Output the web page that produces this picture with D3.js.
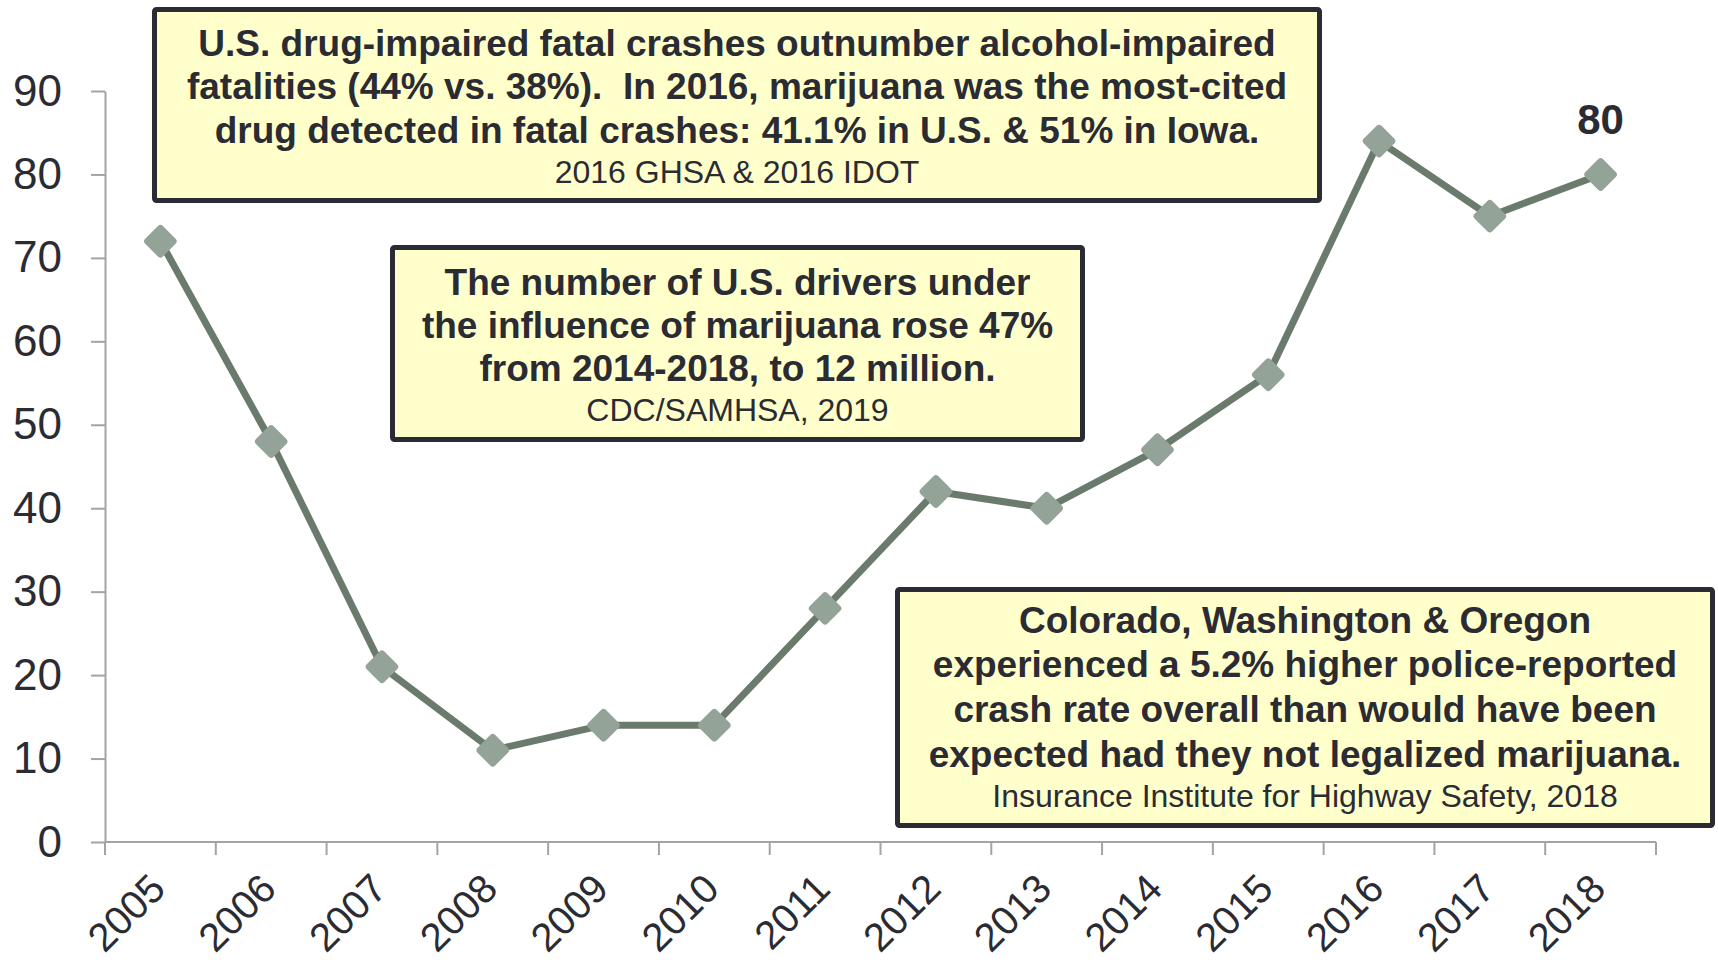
<!DOCTYPE html>
<html>
<head>
<meta charset="utf-8">
<script src="https://d3js.org/d3.v7.min.js"></script>
<style>
  html, body { margin: 0; padding: 0; background: #ffffff; }
  svg { display: block; }
  text { font-family: "Liberation Sans", Arial, Helvetica, sans-serif; fill: #2b2b33; white-space: pre; }
</style>
</head>
<body>
<svg id="chart" width="1718" height="963"></svg>
<script>
// ---------------- data ----------------
const years = ["2005","2006","2007","2008","2009","2010","2011","2012","2013","2014","2015","2016","2017","2018"];
const values = [72, 48, 21, 11, 14, 14, 28, 42, 40, 47, 56, 84, 75, 80];
const yTicks = [0, 10, 20, 30, 40, 50, 60, 70, 80, 90];
const labeledYear = "2018";
const labeledText = "80";

const note1Lines = [
  "U.S. drug-impaired fatal crashes outnumber alcohol-impaired",
  "fatalities (44% vs. 38%).  In 2016, marijuana was the most-cited",
  "drug detected in fatal crashes: 41.1% in U.S. & 51% in Iowa."
];
const note1Source = "2016 GHSA & 2016 IDOT";

const note2Lines = [
  "The number of U.S. drivers under",
  "the influence of marijuana rose 47%",
  "from 2014-2018, to 12 million."
];
const note2Source = "CDC/SAMHSA, 2019";

const note3Lines = [
  "Colorado, Washington & Oregon",
  "experienced a 5.2% higher police-reported",
  "crash rate overall than would have been",
  "expected had they not legalized marijuana."
];
const note3Source = "Insurance Institute for Highway Safety, 2018";

// ---------------- drawing ----------------
const svg = d3.select("#chart");
const axisColor = "#a3a3a3";
const lineColor = "#6a7b6e";
const markerColor = "#93a397";

const x = d3.scaleBand().domain(years).range([105, 1656]).padding(0);
const y = d3.scaleLinear().domain([0, 90]).range([842, 91]);
const bw = x.bandwidth();

// Y axis
const yAxis = svg.append("g")
  .attr("transform", "translate(105,0)")
  .call(d3.axisLeft(y).tickValues(yTicks).tickSize(14).tickSizeOuter(0).tickPadding(29));
yAxis.select(".domain").attr("stroke", axisColor).attr("stroke-width", 2);
yAxis.selectAll(".tick line").attr("stroke", axisColor).attr("stroke-width", 2);
yAxis.selectAll(".tick text")
  .attr("font-size", 44)
  .attr("font-family", "Liberation Sans, Arial, sans-serif")
  .attr("fill", "#2b2b33");

// X axis (labels via axis, ticks at category boundaries)
const xAxis = svg.append("g")
  .attr("transform", "translate(0,842)")
  .call(d3.axisBottom(x).tickSize(0).tickSizeOuter(0));
xAxis.select(".domain").remove();
xAxis.selectAll(".tick text")
  .attr("font-size", 40)
  .attr("font-family", "Liberation Sans, Arial, sans-serif")
  .attr("fill", "#2b2b33")
  .attr("x", 0).attr("y", 0).attr("dy", 0)
  .attr("text-anchor", "end")
  .attr("transform", "translate(7,49) rotate(-45)");

svg.append("line")
  .attr("x1", x.range()[0]).attr("x2", x.range()[1])
  .attr("y1", y(0)).attr("y2", y(0))
  .attr("stroke", axisColor).attr("stroke-width", 2);

const edges = years.map(d => x(d)).concat([x.range()[1]]);
svg.append("g").selectAll("line").data(edges).join("line")
  .attr("x1", d => d).attr("x2", d => d)
  .attr("y1", y(0)).attr("y2", y(0) + 13)
  .attr("stroke", axisColor).attr("stroke-width", 2);

// Series
const series = years.map((yr, i) => ({ year: yr, value: values[i] }));
const line = d3.line().x(d => x(d.year) + bw / 2).y(d => y(d.value));
svg.append("path")
  .datum(series)
  .attr("d", line)
  .attr("fill", "none")
  .attr("stroke", lineColor)
  .attr("stroke-width", 7)
  .attr("stroke-linejoin", "round");

svg.append("g").selectAll("g").data(series).join("g")
  .attr("transform", d => `translate(${x(d.year) + bw / 2},${y(d.value)}) rotate(45)`)
  .append("rect")
  .attr("x", -12.5).attr("y", -12.5)
  .attr("width", 25).attr("height", 25)
  .attr("rx", 3.5)
  .attr("fill", markerColor);

// data label
const lv = series.find(d => d.year === labeledYear);
svg.append("text")
  .attr("x", x(lv.year) + bw / 2)
  .attr("y", y(lv.value) - 40)
  .attr("text-anchor", "middle")
  .attr("font-size", 42)
  .attr("font-weight", "bold")
  .text(labeledText);

// Annotation boxes
function noteBox(box, lines, source, baselines, srcBaseline) {
  const g = svg.append("g");
  g.append("rect")
    .attr("x", box.x0 + 2.5).attr("y", box.y0 + 2.5)
    .attr("width", box.x1 - box.x0 - 5).attr("height", box.y1 - box.y0 - 5)
    .attr("rx", 2)
    .attr("fill", "#ffffcc")
    .attr("stroke", "#2b2b33")
    .attr("stroke-width", 5);
  const cx = (box.x0 + box.x1) / 2;
  g.selectAll("text.l").data(lines).join("text")
    .attr("class", "l")
    .attr("x", cx)
    .attr("y", (d, i) => baselines[i])
    .attr("text-anchor", "middle")
    .attr("font-size", 37)
    .attr("font-weight", "bold")
    .attr("xml:space", "preserve")
    .text(d => d);
  g.append("text")
    .attr("x", cx)
    .attr("y", srcBaseline)
    .attr("text-anchor", "middle")
    .attr("font-size", 32)
    .text(source);
}

noteBox({ x0: 152, x1: 1322, y0: 7, y1: 203 }, note1Lines, note1Source, [56, 99, 143], 183);
noteBox({ x0: 390, x1: 1085, y0: 245, y1: 442 }, note2Lines, note2Source, [295, 338, 381], 421);
noteBox({ x0: 895, x1: 1715, y0: 587, y1: 828 }, note3Lines, note3Source, [633, 677, 722, 767], 807);
</script>
</body>
</html>
